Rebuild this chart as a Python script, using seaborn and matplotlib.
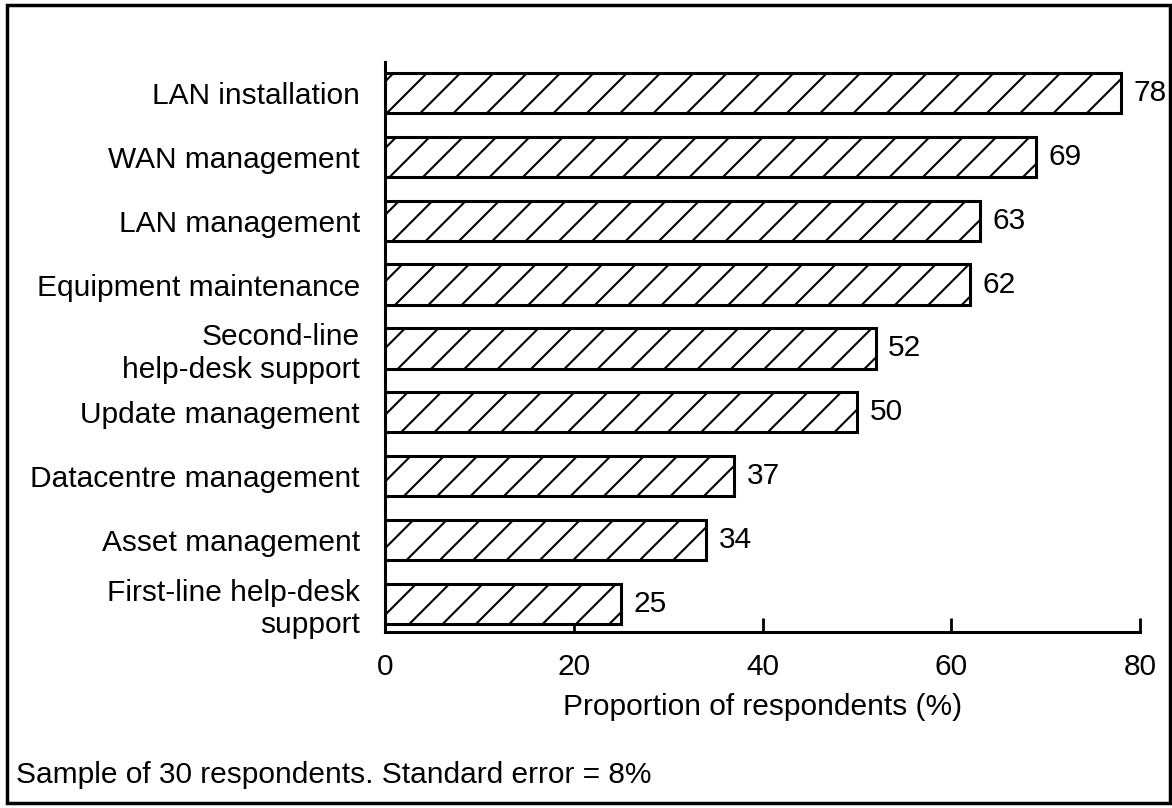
import matplotlib
matplotlib.use("Agg")
import matplotlib.pyplot as plt
import seaborn as sns
import pandas as pd
from matplotlib.patches import Rectangle

categories = ["LAN installation", "WAN management", "LAN management",
              "Equipment maintenance", "Second-line\nhelp-desk support",
              "Update management", "Datacentre management",
              "Asset management", "First-line help-desk\nsupport"]
values = [78, 69, 63, 62, 52, 50, 37, 34, 25]
xticks = [0, 20, 40, 60, 80]
xlabel = "Proportion of respondents (%)"
footnote = "Sample of 30 respondents. Standard error = 8%"

sns.set_style("white")
plt.rcParams['font.family'] = ['Liberation Sans', 'DejaVu Sans']
plt.rcParams['hatch.linewidth'] = 1.5
plt.rcParams['text.color'] = 'black'
plt.rcParams['xtick.color'] = 'black'
plt.rcParams['ytick.color'] = 'black'
plt.rcParams['axes.labelcolor'] = 'black'
FS = 21.5

df = pd.DataFrame({"cat": categories, "val": values})

fig = plt.figure(figsize=(11.72, 8.08), dpi=100)
ax = fig.add_axes([0.3285, 0.2178, 0.9727 - 0.3285, 0.9233 - 0.2178])
sns.barplot(data=df, x="val", y="cat", orient="h", color="white",
            edgecolor="black", linewidth=2.2, width=0.63, ax=ax)
for p in ax.patches:
    p.set_hatch("/")
    p.set_facecolor("white")

ax.set_xlim(0, 80)
ax.set_ylim(8.44, -0.485)
ax.set_xticks(xticks)
ax.set_xticklabels([str(t) for t in xticks], fontsize=FS)
ax.tick_params(axis="x", bottom=True, direction="in", length=10, width=2,
               pad=15, color="black", labelcolor="black")
ax.tick_params(axis="y", left=False, length=0, pad=18, labelcolor="black")
for lab in ax.get_yticklabels():
    lab.set_fontsize(FS)
    lab.set_horizontalalignment("right")
    lab.set_multialignment("right")
ax.set_ylabel("")
ax.set_xlabel(xlabel, fontsize=FS, labelpad=9, color="black")
for s in ["top", "right"]:
    ax.spines[s].set_visible(False)
for s in ["left", "bottom"]:
    ax.spines[s].set_linewidth(2.2)
    ax.spines[s].set_color("black")

for i, v in enumerate(values):
    ax.annotate(str(v), xy=(v, i), xytext=(9, 0), textcoords="offset points",
                va="center", ha="left", fontsize=FS, color="black",
                annotation_clip=False)

fig.text(16 / 1172, 1 - 775 / 808, footnote, fontsize=FS, ha="left",
         va="center", color="black")
fig.patches.append(Rectangle((0.006, 0.006), 0.992, 0.988, transform=fig.transFigure,
                             fill=False, edgecolor="black", linewidth=2.5))

fig.savefig("out.png", dpi=100)
